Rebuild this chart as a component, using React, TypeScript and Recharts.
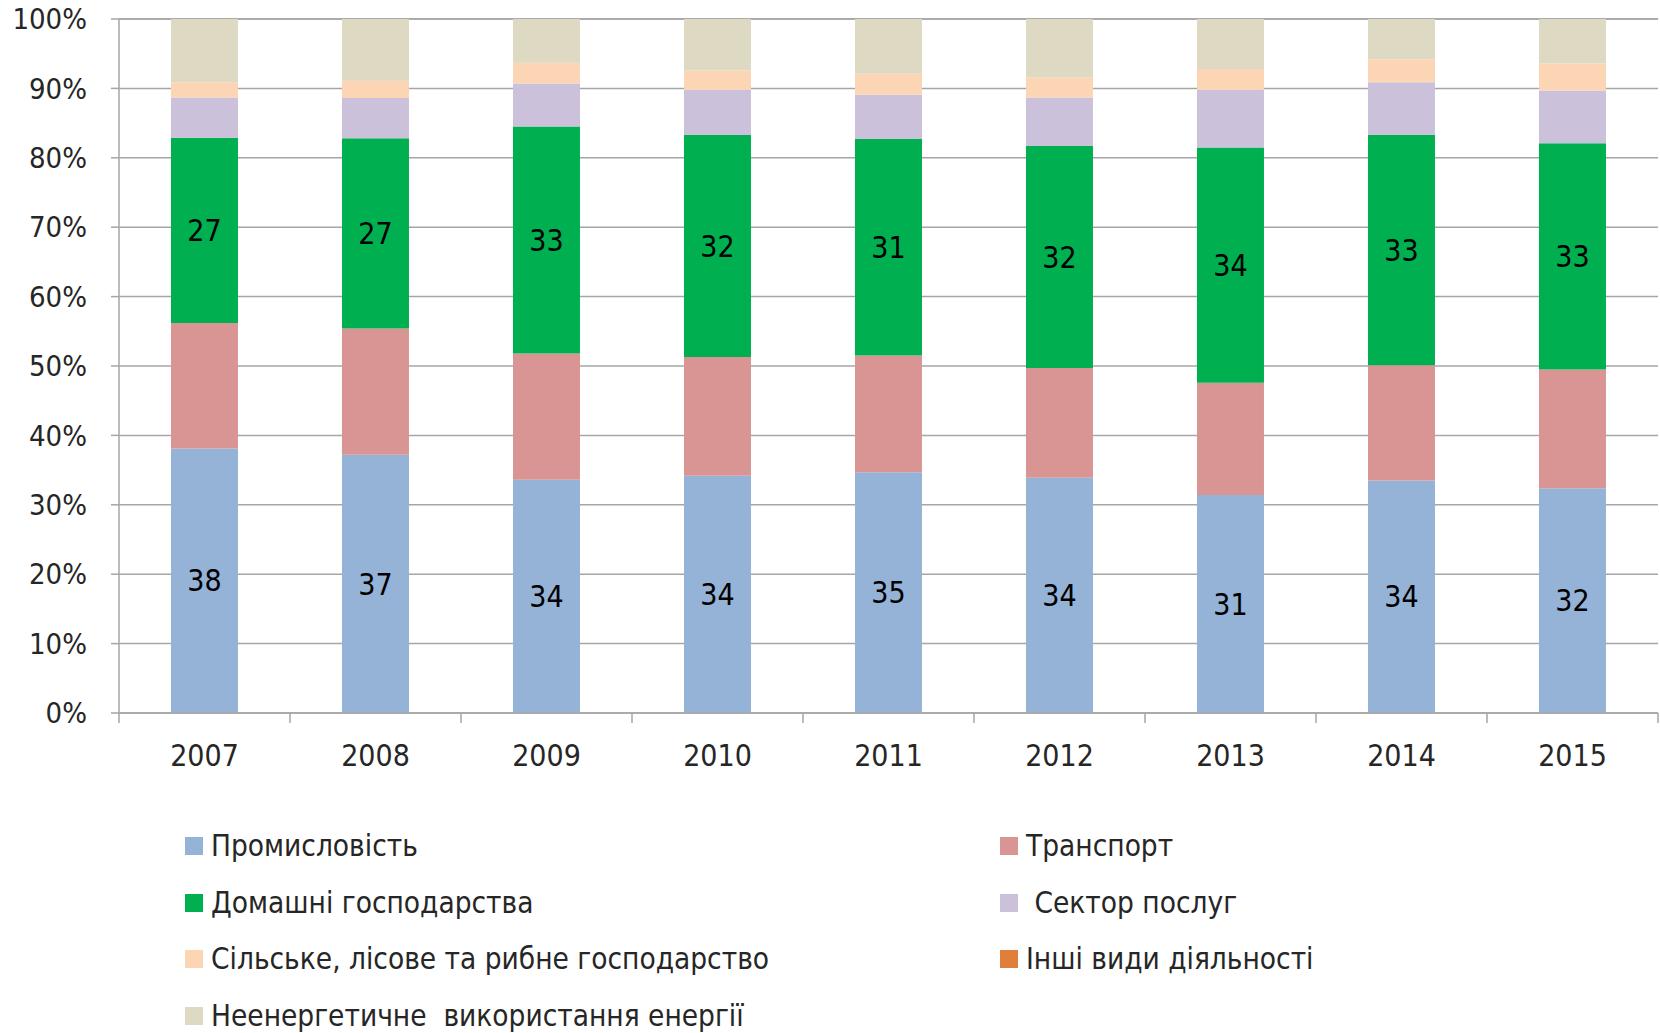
import React from 'react';
import { BarChart, Bar, XAxis, YAxis, CartesianGrid, Legend, LabelList } from 'recharts';

const years = ['2007', '2008', '2009', '2010', '2011', '2012', '2013', '2014', '2015'];
const industry = [38.1, 37.2, 33.6, 34.2, 34.7, 33.9, 31.4, 33.5, 32.4];
const transport = [18.1, 18.2, 18.2, 17.1, 16.8, 15.8, 16.2, 16.6, 17.1];
const households = [26.7, 27.4, 32.7, 32.0, 31.2, 32.0, 33.9, 33.2, 32.6];
const services = [5.8, 5.8, 6.2, 6.5, 6.4, 7.0, 8.3, 7.6, 7.6];
const agriculture = [2.2, 2.5, 3.0, 2.8, 3.0, 2.9, 3.0, 3.3, 3.9];
const otherActivities = [0, 0, 0, 0, 0, 0, 0, 0, 0];
const nonEnergy = [9.1, 8.9, 6.3, 7.4, 7.9, 8.4, 7.2, 5.8, 6.4];
const yTicks = [0, 10, 20, 30, 40, 50, 60, 70, 80, 90, 100];

const series = [
  { key: 'industry', name: 'Промисловість', color: '#95B3D7', values: industry, label: true },
  { key: 'transport', name: 'Транспорт', color: '#D99594', values: transport, label: false },
  { key: 'households', name: 'Домашні господарства', color: '#00B050', values: households, label: true },
  { key: 'services', name: ' Сектор послуг', color: '#CCC1DA', values: services, label: false },
  { key: 'agriculture', name: 'Сільське, лісове та рибне господарство', color: '#FCD5B5', values: agriculture, label: false },
  { key: 'other', name: 'Інші види діяльності', color: '#E07F3A', values: otherActivities, label: false },
  { key: 'nonEnergy', name: 'Неенергетичне  використання енергії', color: '#DDD9C3', values: nonEnergy, label: false },
];

const data = years.map((year, i) => {
  const row: Record<string, any> = { year };
  series.forEach((s) => { row[s.key] = s.values[i]; });
  return row;
});

const FONT = "'Liberation Sans Narrow', 'DejaVu Sans Condensed', 'Open Sans', sans-serif";
const W = 1660;
const H = 1033;
const PLOT_LEFT = 119;
const PLOT_RIGHT = 2;
const CAT_W = (W - PLOT_LEFT - PLOT_RIGHT) / years.length;
const GRID = '#A6A6A6';

const YearTick: React.FC<any> = ({ x, y, payload, index }) => (
  <g>
    <line x1={x - CAT_W / 2} x2={x - CAT_W / 2} y1={y} y2={y + 10} stroke={GRID} strokeWidth={1.5} />
    {index === years.length - 1 && (
      <line x1={x + CAT_W / 2} x2={x + CAT_W / 2} y1={y} y2={y + 10} stroke={GRID} strokeWidth={1.5} />
    )}
    <text x={x} y={y + 42} textAnchor="middle" dominantBaseline="central" fill="#262626" fontSize={30} fontFamily={FONT}>
      {payload.value}
    </text>
  </g>
);

const LegendBox: React.FC<any> = () => (
  <div style={{ position: 'relative', width: 1300, height: 190, fontFamily: FONT, fontSize: 29.5, color: '#262626' }}>
    {series.map((s, i) => {
      const col = i % 2;
      const row = Math.floor(i / 2);
      return (
        <div
          key={s.key}
          style={{
            position: 'absolute',
            left: col === 0 ? 0 : 815,
            top: row * 56.5,
            height: 32,
            lineHeight: '32px',
            display: 'flex',
            alignItems: 'center',
            whiteSpace: 'pre',
          }}
        >
          <span style={{ display: 'inline-block', width: 18, height: 18, background: s.color, marginRight: 8 }} />
          <span>{s.name}</span>
        </div>
      );
    })}
  </div>
);

export default function App() {
  return (
    <div style={{ position: 'absolute', left: 0, top: 0, width: W, height: H }}>
      <BarChart
        width={W}
        height={H}
        data={data}
        margin={{ top: 19, right: PLOT_RIGHT, left: 0, bottom: 260 }}
        barCategoryGap="30.4%"
      >
        <CartesianGrid vertical={false} stroke={GRID} strokeWidth={1.5} />
        <XAxis
          dataKey="year"
          height={60}
          tick={<YearTick />}
          tickLine={false}
          tickSize={0}
          tickMargin={0}
          axisLine={{ stroke: GRID, strokeWidth: 1.5 }}
          interval={0}
        />
        <YAxis
          width={PLOT_LEFT}
          domain={[0, 100]}
          ticks={yTicks}
          interval={0}
          tickFormatter={(v: number) => `${v}%`}
          tickSize={8}
          tickMargin={24}
          tickLine={{ stroke: GRID, strokeWidth: 1.5 }}
          axisLine={{ stroke: GRID, strokeWidth: 1.5 }}
          tick={{ fill: '#262626', fontSize: 29, fontFamily: FONT }}
        />
        <Legend
          layout="vertical"
          align="center"
          verticalAlign="middle"
          wrapperStyle={{ top: 830, left: 185, width: 1300 }}
          content={<LegendBox />}
        />
        {series.map((s) => (
          <Bar key={s.key} dataKey={s.key} name={s.name} stackId="a" fill={s.color} isAnimationActive={false}>
            {s.label && (
              <LabelList
                dataKey={s.key}
                position="center"
                formatter={(v: any) => Math.round(Number(v))}
                fill="#000000"
                fontSize={30}
                fontFamily={FONT}
              />
            )}
          </Bar>
        ))}
      </BarChart>
    </div>
  );
}
